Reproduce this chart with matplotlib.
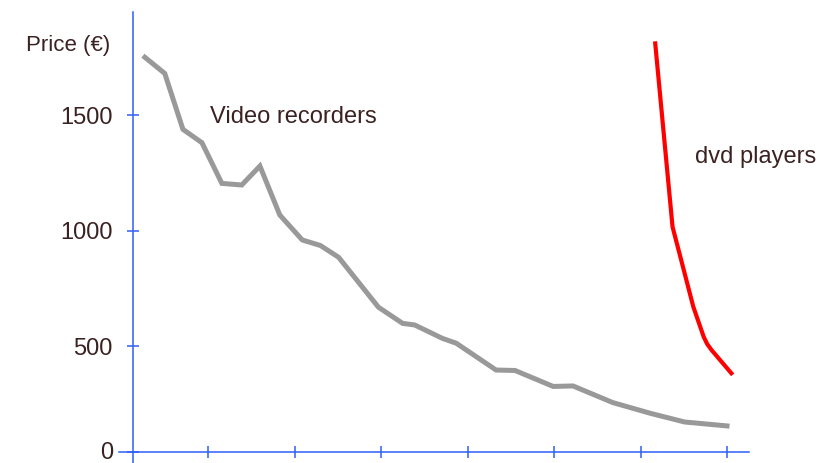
import matplotlib.pyplot as plt
import matplotlib.transforms as mtransforms

plt.rcParams['font.family'] = ['Liberation Sans', 'DejaVu Sans']

# x in tick units (ticks at 1..7), price in euros
vcr_x = [0.27, 0.50, 0.71, 0.93, 1.16, 1.39, 1.60, 1.83, 2.09, 2.30, 2.51, 2.97,
         3.25, 3.39, 3.71, 3.87, 4.33, 4.55, 4.99, 5.22, 5.68, 6.12, 6.51, 7.00]
vcr_price = [1750, 1680, 1438, 1380, 1204, 1197, 1279, 1067, 959, 935, 884, 668,
             598, 591, 533, 512, 396, 394, 325, 327, 255, 208, 171, 154]

dvd_x = [6.17, 6.37, 6.50, 6.61, 6.73, 6.77, 6.82, 7.05]
dvd_price = [1810, 1016, 829, 670, 540, 509, 483, 382]

ytick_pos = [41, 500, 1000, 1500]
ytick_labels = ['0', '500', '1000', '1500']
xtick_pos = [1, 2, 3, 4, 5, 6, 7]

blue = '#2f5ff5'
text_col = '#3b2222'

fig = plt.figure(figsize=(8.32, 4.63), dpi=100)
ax = fig.add_axes([119 / 832, 0, (749 - 119) / 832, (463 - 12) / 463])

ax.plot(vcr_x, vcr_price, color='#999999', lw=3.6, solid_joinstyle='miter')
ax.plot(dvd_x, dvd_price, color='#ff0000', lw=3.0)

ax.set_xlim(-0.029, 7.254)
ax.set_ylim(-6.5, 1946)

for s in ['top', 'right']:
    ax.spines[s].set_visible(False)
ax.spines['left'].set_position(('data', 0.133))
ax.spines['bottom'].set_position(('data', 41))
for s in ['left', 'bottom']:
    ax.spines[s].set_color(blue)
    ax.spines[s].set_linewidth(1.1)

ax.set_xticks(xtick_pos)
ax.set_xticklabels([])
ax.set_yticks(ytick_pos)
ax.set_yticklabels(ytick_labels)
ax.tick_params(axis='both', direction='inout', length=9, width=1.1, color=blue)
ax.tick_params(axis='y', labelsize=17, labelcolor=text_col, pad=10)

# lift the "0" a touch so it stays inside the canvas
zero_lbl = ax.get_yticklabels()[0]
zero_lbl.set_transform(zero_lbl.get_transform() +
                       mtransforms.ScaledTranslation(0, 2 / 100, fig.dpi_scale_trans))

ax.text(1.02, 1491, 'Video recorders', fontsize=17, color=text_col, va='center')
ax.text(6.63, 1318, 'dvd players', fontsize=17, color=text_col, va='center')
fig.text(110 / 832, 1 - 45 / 463, 'Price (€)', fontsize=16, color=text_col,
         ha='right', va='center')

fig.savefig('out.png', dpi=100)
